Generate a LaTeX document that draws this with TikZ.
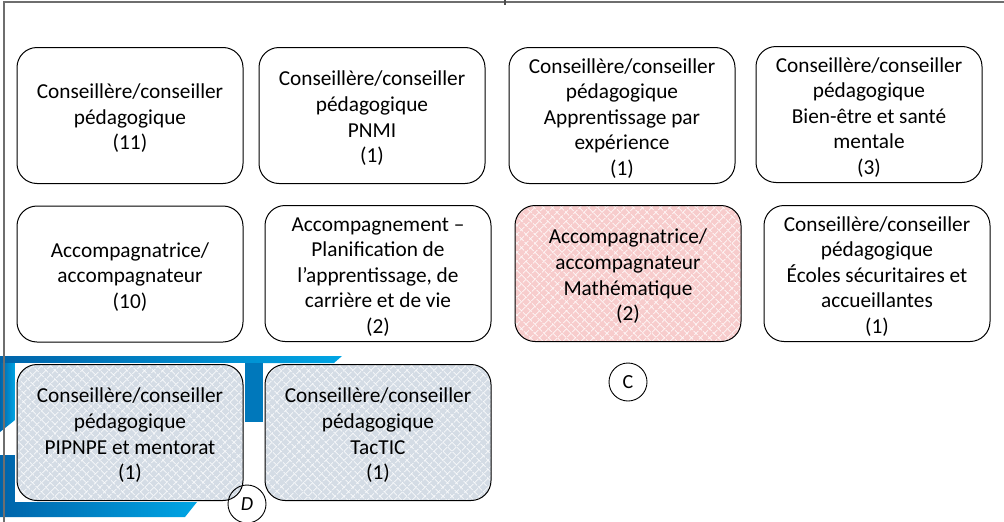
\documentclass[tikz,border=0pt]{standalone}
\usepackage{fontspec}
\setmainfont{Carlito}
\usetikzlibrary{patterns.meta}
\definecolor{pinkfill}{RGB}{247,204,204}
\definecolor{greyfill}{RGB}{212,220,229}
\definecolor{blueA}{RGB}{0,100,170}
\definecolor{blueB}{RGB}{0,165,228}
\definecolor{frame}{RGB}{110,110,110}
\newcommand\mystrut{\rule{0pt}{20.5pt}}
\tikzset{
  box/.style={draw=black, line width=1pt, rounded corners=20pt, minimum width=226pt,
    minimum height=136pt, align=center, inner sep=0pt,
    font=\fontsize{21.3}{25.6}\selectfont},
  lattice/.style={preaction={fill=#1},
    preaction={pattern={Lines[angle=45,distance=6.4pt,line width=0.7pt]}, pattern color=white},
    pattern={Lines[angle=-45,distance=6.4pt,line width=0.7pt]}, pattern color=white},
  badge/.style={draw=black, line width=0.9pt, circle, minimum size=38pt, inner sep=0pt,
    font=\fontsize{20}{24}\selectfont},
  bluebar/.style={shading=axis, left color=blueA, right color=blueB, draw=none}
}
\begin{document}
\begin{tikzpicture}[x=1pt,y=-1pt]
\useasboundingbox (0,0) rectangle (1004,522);
% blue decorative shapes
\shade[bluebar] (0,356) -- (342,356) -- (334,363) -- (0,363) -- cycle;
\shade[bluebar] (0,363) -- (15,363) -- (15,420) -- (0,432) -- cycle;
\fill[blueA!70!blueB] (245,363) rectangle (263,422);
\shade[bluebar] (0,455) -- (15,455) -- (15,502) -- (197,502) -- (185,517) -- (0,517) -- cycle;
\fill[white] (15,363) rectangle (245,502);
% frame lines
\draw[frame, line width=1.2pt] (3,2) -- (1004,2);
\draw[frame, line width=1.2pt] (4,2) -- (4,522);
\draw[black!70, line width=2pt] (505,0) -- (505,5);
% row 1
\node[box] (b1) at (130,115.5) {\mystrut Conseillère/conseiller\\pédagogique\\(11)};
\node[box] (b2) at (372,115.5) {\mystrut Conseillère/conseiller\\pédagogique\\PNMI\\(1)};
\node[box] (b3) at (622,115.5) {\mystrut Conseillère/conseiller\\pédagogique\\Apprentissage par\\expérience\\(1)};
\node[box] (b4) at (869,114.5) {\mystrut Conseillère/conseiller\\pédagogique\\Bien-être et santé\\mentale\\(3)};
% row 2
\node[box] (b5) at (130,274) {\mystrut Accompagnatrice/\\accompagnateur\\(10)};
\node[box] (b6) at (378,273.5) {\mystrut Accompagnement –\\Planification de\\l’apprentissage, de\\carrière et de vie\\(2)};
\node[box, lattice=pinkfill] (b7) at (628,273.5) {\mystrut Accompagnatrice/\\accompagnateur\\Mathématique\\(2)};
\node[box] (b8) at (877,273.5) {\mystrut Conseillère/conseiller\\pédagogique\\Écoles sécuritaires et\\accueillantes\\(1)};
% row 3
\node[box, lattice=greyfill] (b9) at (130,432.5) {\mystrut Conseillère/conseiller\\pédagogique\\PIPNPE et mentorat\\(1)};
\node[box, lattice=greyfill] (b10) at (378,432.5) {\mystrut Conseillère/conseiller\\pédagogique\\TacTIC\\(1)};
% badges
\node[badge] (c) at (628,382) {C};
\node[badge] (d) at (247,504) {\itshape D};
\end{tikzpicture}
\end{document}
